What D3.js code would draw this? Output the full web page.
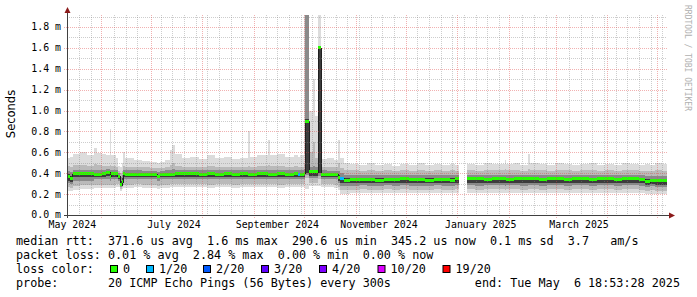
<!DOCTYPE html>
<html>
<head>
<meta charset="utf-8">
<script src="https://cdn.jsdelivr.net/npm/d3@7"></script>
<style>
body { margin: 0; background: #fff; }
svg { display: block; }
text { font-family: "DejaVu Sans Mono", monospace; fill: #000; }
</style>
</head>
<body>
<svg id="chart" width="697" height="297"></svg>
<script>
// time range: last 360 days up to the end stamp
var endTime = new Date(Date.UTC(2025, 4, 6, 18, 53, 28));
var spanDays = 360;

// sample position in days from the start of the graph
var days = [0, 2, 3.5, 8, 12, 16, 18, 21, 23.5, 25.8,
  26.4, 29.5, 30.5, 31.8, 33, 33.8, 35, 40, 45, 50,
  54, 55.5, 59, 61.5, 63, 65, 69, 74, 79, 84,
  89, 94, 99, 104, 108.5, 109.5, 114, 120.5, 121.5, 126,
  131, 136, 138.5, 139.5, 142.2, 142.8, 145.2, 147.5, 148.5, 150.6,
  152.4, 156, 160, 162.6, 163.8, 166.2, 170, 175, 180, 185,
  190, 195, 200, 205, 210, 215, 220, 225, 230, 233,
  235.2, 239.8, 245, 250, 255, 262.5, 263.5, 268, 272, 276.8,
  277.8, 283, 288, 293, 298, 303, 308, 313, 318, 323,
  328, 333, 338, 343, 346.8, 350, 353, 357];

// median rtt in ms
var median = [.37, .35, .395, .40, .395, .39, .39, .40, .41, .37,
  .40, .40, .37, .29, .32, .40, .39, .39, .39, .39,
  .37, .385, .39, .39, .39, .395, .40, .395, .39, .395,
  .39, .395, .39, .395, .39, .39, .395, .39, .39, .395,
  .39, .395, .39, .39, .40, .90, .415, .415, .415, 1.60,
  .39, .39, .39, .36, .35, .335, .34, .34, .34, .335,
  .34, .34, .345, .34, .34, .335, .34, .34, .335, .345,
  null, .345, .345, .34, .345, .345, .34, .345, .345, .345,
  .345, .34, .345, .345, .34, .345, .345, .34, .345, .345,
  .34, .345, .345, .34, .32, .335, .33, .33];

// lost pings out of 20
var loss = [0, 0, 0, 0, 0, 0, 0, 0, 0, 0,
  0, 0, 0, 0, 0, 0, 0, 0, 0, 0,
  0, 0, 0, 0, 0, 0, 0, 0, 0, 0,
  0, 0, 0, 0, 0, 0, 0, 0, 0, 0,
  0, 0, 1, 0, 0, 0, 0, 0, 0, 0,
  0, 0, 0, 0, 1, 0, 0, 0, 0, 0,
  0, 0, 0, 0, 0, 0, 0, 0, 0, 0,
  null, 0, 0, 0, 0, 0, 0, 0, 0, 0,
  0, 0, 0, 0, 0, 0, 0, 0, 0, 0,
  0, 0, 0, 0, 0, 0, 0, 0];

// smoke: spread of the 20 pings (ms), outer to inner
var outerHi = [.55, .56, .58, .60, .57, .64, .59, .58, .57, .82,
  .57, .55, .47, .46, .50, .60, .55, .53, .52, .51,
  .50, .51, .53, .62, .67, .58, .55, .56, .54, .57,
  .55, .56, .54, .55, .80, .56, .57, .72, .57, .58,
  .56, .57, .56, .57, 2.0, 2.0, 1.0, 1.30, .95, 2.0,
  .54, .55, .53, .72, .55, .50, .49, .48, .50, .48,
  .49, .47, .49, .48, .50, .48, .49, .48, .49, .48,
  null, .49, .48, .50, .49, .53, .49, .50, .48, .58,
  .50, .49, .48, .50, .49, .48, .49, .50, .48, .49,
  .48, .50, .49, .48, .49, .48, .50, .49];
var outerLo = [.23, .23, .24, .25, .25, .26, .26, .26, .26, .26,
  .26, .27, .27, .23, .25, .26, .26, .27, .26, .26,
  .25, .26, .26, .27, .27, .27, .27, .27, .27, .26,
  .27, .27, .26, .27, .27, .27, .27, .27, .27, .26,
  .27, .27, .27, .27, .27, .25, .28, .28, .28, .28,
  .27, .27, .26, .24, .20, .20, .21, .21, .21, .21,
  .21, .21, .21, .21, .21, .21, .21, .21, .21, .21,
  null, .21, .21, .21, .21, .21, .21, .21, .21, .21,
  .21, .21, .21, .21, .21, .21, .21, .21, .21, .21,
  .21, .21, .21, .21, .20, .20, .20, .20];
var secondHi = [.47, .46, .48, .48, .47, .49, .48, .47, .47, .48,
  .47, .46, .42, .40, .42, .47, .46, .46, .46, .45,
  .45, .45, .46, .48, .50, .47, .46, .46, .46, .47,
  .46, .46, .46, .46, .47, .46, .47, .48, .47, .47,
  .46, .47, .46, .46, .50, 2.0, .60, .70, .55, 1.60,
  .46, .46, .46, .50, .45, .43, .43, .42, .43, .42,
  .43, .42, .43, .42, .43, .42, .43, .42, .43, .42,
  null, .43, .42, .43, .43, .44, .43, .43, .42, .44,
  .43, .43, .42, .43, .43, .42, .43, .43, .42, .43,
  .42, .43, .43, .42, .42, .42, .43, .42];
var secondLo = [.27, .26, .28, .29, .29, .29, .29, .29, .29, .29,
  .29, .30, .30, .25, .27, .29, .29, .30, .29, .29,
  .28, .29, .29, .30, .30, .30, .30, .30, .30, .29,
  .30, .30, .29, .30, .30, .30, .30, .30, .30, .29,
  .30, .30, .30, .30, .30, .35, .31, .31, .31, .34,
  .30, .30, .29, .27, .24, .24, .24, .25, .24, .24,
  .25, .24, .25, .24, .24, .24, .25, .24, .24, .25,
  null, .25, .24, .25, .25, .24, .25, .25, .24, .25,
  .25, .24, .25, .25, .24, .25, .25, .24, .25, .25,
  .24, .25, .25, .24, .23, .24, .23, .23];
var thirdHi = [.42, .41, .43, .43, .43, .43, .43, .43, .44, .43,
  .43, .43, .40, .36, .38, .43, .43, .43, .42, .42,
  .41, .42, .43, .43, .44, .43, .43, .43, .43, .43,
  .43, .43, .43, .43, .43, .43, .43, .43, .43, .43,
  .43, .43, .43, .43, .44, 2.0, .46, .47, .46, 1.60,
  .43, .42, .42, .42, .40, .38, .38, .38, .38, .38,
  .38, .38, .38, .38, .38, .38, .38, .38, .38, .38,
  null, .38, .38, .38, .38, .38, .38, .38, .38, .38,
  .38, .38, .38, .38, .38, .38, .38, .38, .38, .38,
  .38, .38, .38, .38, .37, .37, .37, .37];
var thirdLo = [.31, .30, .33, .33, .33, .34, .34, .34, .34, .33,
  .34, .34, .33, .27, .30, .34, .34, .34, .34, .34,
  .33, .34, .34, .34, .34, .34, .34, .34, .34, .34,
  .34, .34, .34, .34, .34, .34, .34, .34, .34, .34,
  .34, .34, .34, .34, .34, .38, .35, .35, .35, .37,
  .34, .34, .34, .31, .28, .28, .28, .29, .28, .28,
  .29, .28, .29, .28, .28, .28, .29, .28, .28, .29,
  null, .29, .28, .29, .29, .28, .29, .29, .28, .29,
  .29, .28, .29, .29, .28, .29, .29, .28, .29, .29,
  .28, .29, .29, .28, .27, .28, .27, .27];
var coreHi = [.39, .37, .405, .41, .405, .40, .40, .41, .415, .40,
  .41, .41, .38, .33, .35, .41, .40, .40, .40, .40,
  .38, .395, .40, .40, .40, .405, .41, .405, .40, .405,
  .40, .405, .40, .405, .40, .40, .405, .40, .40, .405,
  .40, .405, .40, .40, .41, .92, .425, .425, .425, 1.60,
  .40, .40, .40, .38, .36, .35, .355, .355, .355, .35,
  .355, .355, .36, .355, .355, .35, .355, .355, .35, .36,
  null, .36, .36, .355, .36, .36, .355, .36, .36, .36,
  .36, .355, .36, .36, .355, .36, .36, .355, .36, .36,
  .355, .36, .36, .355, .34, .345, .34, .34];
var coreLo = [.33, .32, .36, .36, .36, .36, .36, .36, .37, .35,
  .36, .36, .34, .28, .31, .36, .36, .36, .36, .36,
  .35, .36, .36, .36, .36, .36, .36, .36, .36, .36,
  .36, .36, .36, .36, .36, .36, .36, .36, .36, .36,
  .36, .36, .36, .36, .36, .40, .37, .37, .37, .40,
  .36, .36, .36, .33, .31, .31, .31, .31, .31, .31,
  .31, .31, .31, .31, .31, .31, .31, .31, .31, .31,
  null, .31, .31, .31, .31, .31, .31, .31, .31, .31,
  .31, .31, .31, .31, .31, .31, .31, .31, .31, .31,
  .31, .31, .31, .31, .29, .30, .29, .29];

// axis labels
var yLabels = [0, 0.2, 0.4, 0.6, 0.8, 1.0, 1.2, 1.4, 1.6, 1.8];
var xLabelMonths = ["2024-05-01", "2024-07-01", "2024-09-01", "2024-11-01", "2025-01-01", "2025-03-01"];

// loss colour legend
var lossLevels = [0, 1, 2, 3, 4, 10, 19];
var lossNames = ["0", "1/20", "2/20", "3/20", "4/20", "10/20", "19/20"];
var lossColors = ["#26ff00", "#00b8ff", "#0059ff", "#5e00ff", "#7e00ff", "#dd00ff", "#ff0000"];

// legend lines
var legendRtt = "median rtt:  371.6 us avg  1.6 ms max  290.6 us min  345.2 us now  0.1 ms sd  3.7   am/s";
var legendLoss = "packet loss: 0.01 % avg  2.84 % max  0.00 % min  0.00 % now";
var legendProbe = "probe:       20 ICMP Echo Pings (56 Bytes) every 300s";
var legendEnd = "end: Tue May  6 18:53:28 2025";

var startTime = new Date(endTime.getTime() - spanDays * 864e5);
function dayDate(d) { return new Date(startTime.getTime() + d * 864e5); }

var svg = d3.select("#chart");
var x = d3.scaleUtc().domain([startTime, endTime]).range([67, 667]);
var y = d3.scaleLinear().domain([0, 1.915]).range([215, 15]);

svg.append("defs").append("clipPath").attr("id", "plot")
  .append("rect").attr("x", 67).attr("y", 15).attr("width", 600).attr("height", 200);

var plot = svg.append("g").attr("clip-path", "url(#plot)");

// sample intervals
var slots = days.map(function(d, i) {
  return { i: i, t0: dayDate(d), t1: dayDate(i + 1 < days.length ? days[i + 1] : spanDays) };
}).filter(function(s) { return median[s.i] !== null; });

// smoke bands
var bands = [
  { hi: outerHi, lo: outerLo, color: "#dcdcdc" },
  { hi: secondHi, lo: secondLo, color: "#bababa" },
  { hi: thirdHi, lo: thirdLo, color: "#8a8a8a" },
  { hi: coreHi, lo: coreLo, color: "#3c3c3c" }
];
bands.forEach(function(b) {
  plot.append("g").attr("shape-rendering", "crispEdges")
    .selectAll("rect").data(slots).enter().append("rect")
    .attr("x", function(s) { return x(s.t0); })
    .attr("width", function(s) { return x(s.t1) - x(s.t0); })
    .attr("y", function(s) { return y(b.hi[s.i]); })
    .attr("height", function(s) { return y(b.lo[s.i]) - y(b.hi[s.i]); })
    .attr("fill", b.color);
});

// grid
var minorY = d3.range(1, 20, 2).map(function(v) { return v / 10; });
var grid = svg.append("g").attr("shape-rendering", "crispEdges");
grid.selectAll(".ym").data(minorY).enter().append("line")
  .attr("x1", 67).attr("x2", 667)
  .attr("y1", function(v) { return Math.round(y(v)) + 0.5; })
  .attr("y2", function(v) { return Math.round(y(v)) + 0.5; })
  .attr("stroke", "rgba(130,130,130,0.4)").attr("stroke-dasharray", "1,1");
var monthTicks = d3.utcMonth.range(startTime, endTime);
var weekTicks = d3.utcSunday.range(startTime, endTime).filter(function(t) {
  return !monthTicks.some(function(m) { return Math.abs(x(m) - x(t)) < 2; });
});
grid.selectAll(".xm").data(weekTicks).enter().append("line")
  .attr("x1", function(t) { return Math.round(x(t)) + 0.5; })
  .attr("x2", function(t) { return Math.round(x(t)) + 0.5; })
  .attr("y1", 15).attr("y2", 215)
  .attr("stroke", "rgba(130,130,130,0.4)").attr("stroke-dasharray", "1,1");
grid.selectAll(".yM").data(yLabels.slice(1)).enter().append("line")
  .attr("x1", 64).attr("x2", 667)
  .attr("y1", function(v) { return Math.round(y(v)) + 0.5; })
  .attr("y2", function(v) { return Math.round(y(v)) + 0.5; })
  .attr("stroke", "rgba(222,70,70,0.42)").attr("stroke-dasharray", "1,1");
grid.selectAll(".xM").data(monthTicks).enter().append("line")
  .attr("x1", function(t) { return Math.round(x(t)) + 0.5; })
  .attr("x2", function(t) { return Math.round(x(t)) + 0.5; })
  .attr("y1", 15).attr("y2", 218)
  .attr("stroke", "rgba(222,70,70,0.42)").attr("stroke-dasharray", "1,1");

// median: thin dark step line, then loss coloured bars
var pts = [];
slots.forEach(function(s, k) {
  var prev = slots[k - 1];
  if (prev && prev.t1.getTime() !== s.t0.getTime()) pts.push(null);
  pts.push([s.t0, median[s.i]], [s.t1, median[s.i]]);
});
var stepLine = d3.line().defined(function(p) { return p !== null; })
  .x(function(p) { return x(p[0]); }).y(function(p) { return Math.round(y(p[1])) + 0.5; });
plot.append("path").attr("d", stepLine(pts)).attr("fill", "none")
  .attr("stroke", "#202020").attr("stroke-width", 1).attr("shape-rendering", "crispEdges");

function lossColor(n) {
  var c = lossColors[0];
  lossLevels.forEach(function(l, j) { if (n >= l) c = lossColors[j]; });
  return c;
}
plot.append("g").attr("shape-rendering", "crispEdges")
  .selectAll("rect").data(slots).enter().append("rect")
  .attr("x", function(s) { return x(s.t0); })
  .attr("width", function(s) { return x(s.t1) - x(s.t0); })
  .attr("y", function(s) { return y(median[s.i]) - 1.5; })
  .attr("height", 3)
  .attr("fill", function(s) { return lossColor(loss[s.i]); });

// axes
var axis = svg.append("g").attr("shape-rendering", "crispEdges");
axis.append("line").attr("x1", 64).attr("x2", 669).attr("y1", 215.5).attr("y2", 215.5)
  .attr("stroke", "#404040");
axis.append("line").attr("x1", 67.5).attr("x2", 67.5).attr("y1", 218).attr("y2", 12)
  .attr("stroke", "#404040");
svg.append("path").attr("d", "M669,212.5L675,215.5L669,218.5Z").attr("fill", "#8b1a1a");
svg.append("path").attr("d", "M64.5,13L67.5,7L70.5,13Z").attr("fill", "#8b1a1a");

svg.append("g").selectAll("text").data(yLabels).enter().append("text")
  .attr("x", 61).attr("y", function(v) { return y(v); }).attr("dy", "0.35em")
  .attr("text-anchor", "end").style("font-size", "9.9px")
  .text(function(v) { return d3.format(".1f")(v) + " m"; });

svg.append("g").selectAll("text").data(xLabelMonths).enter().append("text")
  .attr("x", function(m) { return x(d3.utcDay.offset(new Date(m), 14)); })
  .attr("y", 224.5).attr("dy", "0.35em")
  .attr("text-anchor", "middle").style("font-size", "9.9px")
  .text(function(m) { return d3.utcFormat("%B %Y")(new Date(m)); });

svg.append("text").attr("transform", "translate(14.5,114) rotate(-90)")
  .attr("text-anchor", "middle").style("font-family", "DejaVu Sans").style("font-size", "11.5px")
  .text("Seconds");

svg.append("text").attr("transform", "translate(684.5,5) rotate(90)")
  .style("font-size", "8px").style("fill", "#b0b0b0")
  .text("RRDTOOL / TOBI OETIKER");

// legend
var leg = svg.append("g").style("font-size", "11.75px").attr("xml:space", "preserve");
function legLine(str, xx, yy, anchor) {
  leg.append("text").attr("x", xx).attr("y", yy).attr("dy", "0.35em")
    .attr("text-anchor", anchor || "start").style("white-space", "pre").text(str);
}
legLine(legendRtt, 16, 241);
legLine(legendLoss, 16, 255);
legLine("loss color:", 16, 269);
legLine(legendProbe, 16, 283);
legLine(legendEnd, 680, 283, "end");

var boxX = [110, 146, 203, 261, 319, 377.5, 442.5];
lossNames.forEach(function(n, j) {
  leg.append("rect").attr("x", boxX[j] + 0.5).attr("y", 265.5).attr("width", 7).attr("height", 7)
    .attr("fill", lossColors[j]).attr("stroke", "#000").attr("stroke-width", 1);
  legLine(n, boxX[j] + 13, 269);
});
</script>
</body>
</html>
